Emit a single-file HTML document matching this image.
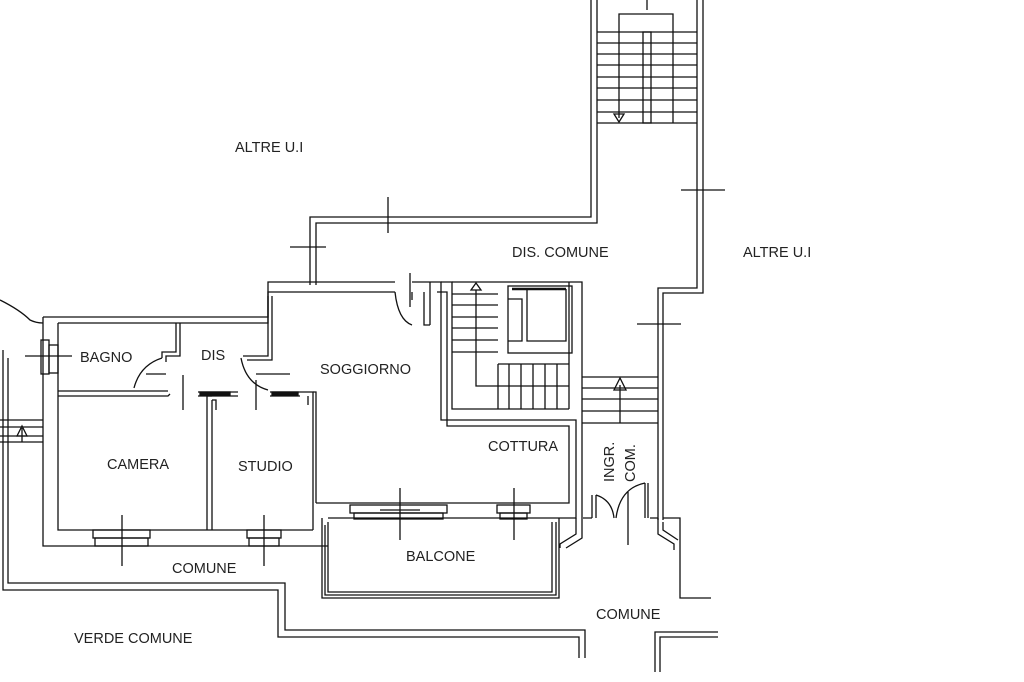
<!DOCTYPE html>
<html><head><meta charset="utf-8"><style>
html,body{margin:0;padding:0;background:#fff;}
svg{display:block;}
text{font-family:"Liberation Sans",Arial,sans-serif;font-size:14.5px;fill:#222;}
</style></head><body>
<svg width="1024" height="682" viewBox="0 0 1024 682" xmlns="http://www.w3.org/2000/svg">
<g fill="none" stroke="#111" stroke-width="1.3">
<!-- top corridor walls -->
<path d="M310,285 V217 H591 V0"/>
<path d="M316,285 V223 H597 V0"/>
<path d="M703,0 V293 H663 V520"/>
<path d="M697,0 V288 H658 V520"/>
<!-- top stair -->
<path d="M619,118 V14 H673 V123"/>
<path d="M647,0 V10"/>
<path d="M597,32 H697 M597,43 H697 M597,54 H697 M597,65 H697 M597,77 H697 M597,88 H697 M597,100 H697 M597,112 H697 M597,123 H697"/>
<rect x="643" y="32" width="8" height="91"/>
<path d="M614,114 L624,114 L619,122 Z"/>
<!-- cross marks -->
<path d="M388,197 V233 M290,247 H326 M681,190 H725 M637,324 H681 M410,273 V307 M400,488 V540 M380,510 H420 M514,488 V540 M122,515 V566 M264,515 V566 M628,492 V545 M183,375 V410 M256,380 V410 M25,356 H72"/>
<!-- apartment outer -->
<path d="M43,317 H268 V282 H395"/>
<path d="M412,282 H430"/>
<path d="M58,323 H268 V292 H395"/>
<path d="M412,292 V300"/>
<path d="M430,282 V325 M424,292 V325 H430"/>
<path d="M395,292 Q398,320 412,325"/>
<path d="M43,317 V546 H328"/>
<path d="M58,323 V530 H313"/>
<!-- bagno / dis walls -->
<path d="M58,391 H168 M58,396 H168 L170,394"/>
<path d="M176,323 V352 H162 V358 M180,323 V356 H166 V362"/>
<path d="M162,358 Q140,365 134,388"/>
<path d="M146,374 H166 M256,374 H290"/>
<path d="M268,296 V356 H243 M272,296 V360 H247"/>
<path d="M241,358 Q246,384 268,390"/>
<path d="M198,392 H238 M198,396 H238" />
<path d="M270,392 H300 M270,396 H300"/>
<rect x="200" y="392" width="30" height="3" fill="#111"/>
<rect x="272" y="392" width="26" height="3" fill="#111"/>
<path d="M207,396 V530 M212,400 V530 M212,400 H216 V410 M207,396 H212"/>
<path d="M300,392 H313 V530 M308,396 V405"/>
<path d="M313,392 H316 V503"/>
<!-- soggiorno / cottura -->
<path d="M316,503 H569 V426 H447 V292 H437"/>
<path d="M328,518 H576 V420 H441 V282 H430"/>
<path d="M441,282 H452 V409 H569"/>
<path d="M452,282 H582 V518"/>
<path d="M569,282 V409"/>
<path d="M452,294 H498 M452,305 H498 M452,317 H498 M452,328 H498 M452,340 H498 M452,352 H498"/>
<path d="M498,364 V409 M509,364 V409 M521,364 V409 M533,364 V409 M545,364 V409 M557,364 V409 M498,364 H569"/>
<path d="M476,290 V386 H569"/>
<path d="M471,290 H481 L476,283 Z"/>
<rect x="508" y="286" width="64" height="67"/>
<path d="M508,299 H522 V341 H508"/>
<path d="M527,289 V341 H566 V289"/>
<path d="M512,289 H566" stroke-width="2.5"/>
<!-- entrance steps -->
<path d="M582,377 H658 M582,388 H658 M582,399 H658 M582,411 H658 M582,423 H658"/>
<path d="M620,423 V385"/>
<path d="M614,390 H626 L620,378 Z"/>
<!-- entrance door -->
<path d="M583,518 H592 M650,518 H658"/>
<path d="M592,495 V518 M596,495 V518"/>
<path d="M596,495 Q612,500 614,518"/>
<path d="M648,483 V518 M645,483 V518"/>
<path d="M645,483 Q620,488 616,518"/>
<path d="M576,518 V534 L560,544 V548 M582,518 V538 L566,548"/>
<path d="M658,518 V534 L674,544 V550 M663,518 H680 V598 H711"/>
<path d="M663,522 V530 L678,540"/>
<!-- windows -->
<rect x="350" y="505" width="97" height="8"/>
<rect x="354" y="513" width="89" height="6"/>
<rect x="497" y="505" width="33" height="8"/>
<rect x="500" y="513" width="27" height="6"/>
<rect x="93" y="530" width="57" height="8"/>
<rect x="95" y="538" width="53" height="8"/>
<rect x="247" y="530" width="34" height="8"/>
<rect x="249" y="538" width="30" height="8"/>
<rect x="41" y="340" width="8" height="34"/>
<rect x="49" y="345" width="9" height="28"/>
<!-- balcone -->
<path d="M322,518 V598 H559 V518"/>
<path d="M328,522 V592 H552 V522"/>
<path d="M325,525 V595 H556 V522"/>
<!-- site lines -->
<path d="M0,300 Q20,310 30,320 Q36,323 43,323"/>
<path d="M3,350 V590 H278 V637 H579 V658"/>
<path d="M8,358 V583 H285 V630 H585 V658"/>
<path d="M0,420 H43 M0,442 H43 M0,427 H43 M0,436 H43"/>
<path d="M22,442 V428"/>
<path d="M17,436 H27 L22,426 Z"/>
<path d="M655,672 V632 H718 M660,672 V637 H718"/>
</g>
<text x="235" y="152">ALTRE U.I</text>
<text x="512" y="257">DIS. COMUNE</text>
<text x="743" y="257">ALTRE U.I</text>
<text x="80" y="362">BAGNO</text>
<text x="201" y="360">DIS</text>
<text x="320" y="374">SOGGIORNO</text>
<text x="107" y="469">CAMERA</text>
<text x="238" y="471">STUDIO</text>
<text x="488" y="451">COTTURA</text>
<text x="406" y="561">BALCONE</text>
<text x="172" y="573">COMUNE</text>
<text x="596" y="619">COMUNE</text>
<text x="74" y="643">VERDE COMUNE</text>
<text transform="translate(614,482) rotate(-90)">INGR.</text>
<text transform="translate(635,482) rotate(-90)">COM.</text>
</svg>
</body></html>
